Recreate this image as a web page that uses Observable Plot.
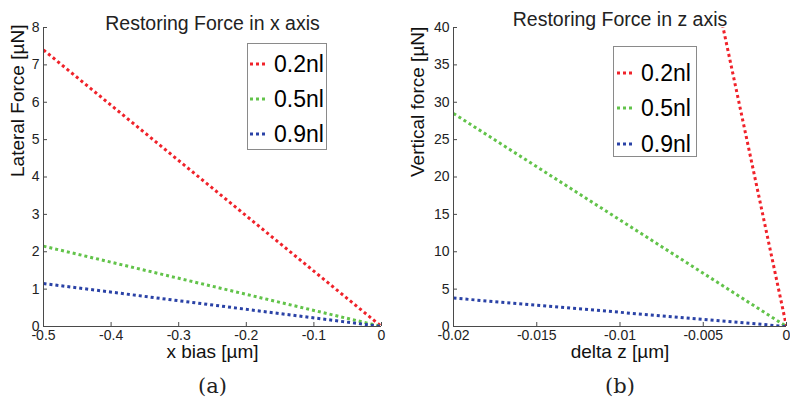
<!DOCTYPE html>
<html>
<head>
<meta charset="utf-8">
<script src="https://cdn.jsdelivr.net/npm/d3@7"></script>
<script src="https://cdn.jsdelivr.net/npm/@observablehq/plot@0.6"></script>
<style>
  body { margin: 0; background: #fff; }
  #wrap { position: relative; width: 790px; height: 409px; display: flex; overflow: hidden; }
  .panel { position: relative; width: 395px; height: 409px; }
  .panel svg { display: block; }
  .legend { position: absolute; background: #fff; border: 1px solid #8a8a8a; box-sizing: border-box;
            font-family: "Liberation Sans", Arial, sans-serif; font-size: 23px; color: #000; }
  .legend .row { position: absolute; display: flex; align-items: center; height: 30px; }
  .legend .row span { line-height: 1; }
</style>
</head>
<body>
<div id="wrap">
  <div class="panel" id="pa"></div>
  <div class="panel" id="pb"></div>
</div>
<script>
// ---- data ----
const seriesNames = ["0.2nl", "0.5nl", "0.9nl"];
const seriesColors = ["#f0222a", "#62c34a", "#2a42a6"];

const xBias = [-0.5, 0];
const lateral02 = [7.4, 0];
const lateral05 = [2.15, 0];
const lateral09 = [1.15, 0];

const deltaZ = [-0.02, 0];
const vertical02 = [210, 0];
const vertical05 = [28.5, 0];
const vertical09 = [3.8, 0];

const xTicksA = [-0.5, -0.4, -0.3, -0.2, -0.1, 0];
const yTicksA = [0, 1, 2, 3, 4, 5, 6, 7, 8];
const xTicksB = [-0.02, -0.015, -0.01, -0.005, 0];
const yTicksB = [0, 5, 10, 15, 20, 25, 30, 35, 40];

function toRows(xs, ys, name) { return xs.map((x, i) => ({x, y: ys[i], s: name})); }

const rowsA = [
  ...toRows(xBias, lateral02, seriesNames[0]),
  ...toRows(xBias, lateral05, seriesNames[1]),
  ...toRows(xBias, lateral09, seriesNames[2])
];
const rowsB = [
  ...toRows(deltaZ, vertical02, seriesNames[0]),
  ...toRows(deltaZ, vertical05, seriesNames[1]),
  ...toRows(deltaZ, vertical09, seriesNames[2])
];

const font = "'Liberation Sans', Arial, sans-serif";
const axisColor = "#4a4a4a";

function panel({rows, xDomain, yDomain, xTicks, yTicks, title, titleDy, xLabel, yLabel, tag, marginLeft, marginRight, yLabelDx}) {
  return Plot.plot({
    width: 395, height: 409,
    marginLeft, marginRight, marginTop: 27, marginBottom: 83,
    style: {fontFamily: font, fontSize: "14px", color: "#222", background: "#fff"},
    x: {domain: xDomain},
    y: {domain: yDomain},
    color: {domain: seriesNames, range: seriesColors},
    marks: [
      Plot.line(rows, {x: "x", y: "y", z: "s", stroke: "s", strokeWidth: 3, strokeDasharray: "3,3",
                       strokeLinecap: "butt", strokeLinejoin: "miter", clip: true}),
      Plot.ruleX([xDomain[0]], {stroke: axisColor}),
      Plot.ruleY([yDomain[0]], {stroke: axisColor}),
      Plot.axisX({ticks: xTicks, tickFormat: d => String(d), tickSize: -4, tickPadding: 8, stroke: axisColor, label: null, fontSize: 14, fontFamily: font}),
      Plot.axisY({ticks: yTicks, tickFormat: d => String(d), tickSize: -4, tickPadding: 8, stroke: axisColor, label: null, fontSize: 14, fontFamily: font}),
      Plot.text([title], {frameAnchor: "top", dy: titleDy, fontSize: 19.5, fontFamily: font, fill: "#222"}),
      Plot.text([xLabel], {frameAnchor: "bottom", dy: 31, fontSize: 19, fontFamily: font, fill: "#111"}),
      Plot.text([yLabel], {frameAnchor: "left", dx: yLabelDx, rotate: -90, fontSize: 19, fontFamily: font, fill: "#111"}),
      Plot.text([tag], {frameAnchor: "bottom", dy: 66, fontSize: 21, fontFamily: "'DejaVu Serif', serif", fill: "#222"})
    ]
  });
}

document.getElementById("pa").appendChild(panel({
  rows: rowsA, xDomain: [-0.5, 0], yDomain: [0, 8], xTicks: xTicksA, yTicks: yTicksA,
  title: "Restoring Force in x axis", titleDy: -11,
  xLabel: "x bias [µm]", yLabel: "Lateral Force [µN]", tag: "(a)",
  marginLeft: 43, marginRight: 14, yLabelDx: -26
}));
document.getElementById("pb").appendChild(panel({
  rows: rowsB, xDomain: [-0.02, 0], yDomain: [0, 40], xTicks: xTicksB, yTicks: yTicksB,
  title: "Restoring Force in z axis", titleDy: -15,
  xLabel: "delta z [µm]", yLabel: "Vertical force [µN]", tag: "(b)",
  marginLeft: 58, marginRight: 4, yLabelDx: -36
}));

// ---- legends ----
function legend(container, box, rowsY, sampleX, textGap) {
  const el = document.createElement("div");
  el.className = "legend";
  Object.assign(el.style, {left: box.x + "px", top: box.y + "px", width: box.w + "px", height: box.h + "px"});
  seriesNames.forEach((name, i) => {
    const row = document.createElement("div");
    row.className = "row";
    row.style.left = sampleX + "px";
    row.style.top = (rowsY[i] - 15) + "px";
    const svg = d3.create("svg").attr("width", 15).attr("height", 6);
    svg.append("line").attr("x1", 0).attr("x2", 15).attr("y1", 3).attr("y2", 3)
      .attr("stroke", seriesColors[i]).attr("stroke-width", 3).attr("stroke-dasharray", "3,3");
    row.appendChild(svg.node());
    const t = document.createElement("span");
    t.textContent = name;
    t.style.marginLeft = textGap + "px";
    row.appendChild(t);
    el.appendChild(row);
  });
  container.appendChild(el);
}
legend(document.getElementById("pa"), {x: 247, y: 43, w: 80, h: 107}, [20, 55, 90], 2, 9);
legend(document.getElementById("pb"), {x: 613 - 395, y: 46, w: 84, h: 111}, [26, 61, 97], 3, 9);
</script>
</body>
</html>
